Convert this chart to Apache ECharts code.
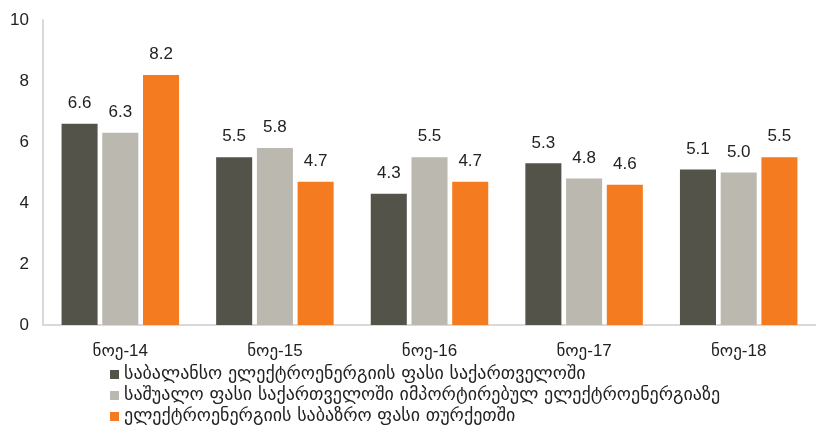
<!DOCTYPE html>
<html><head><meta charset="utf-8">
<script src="https://cdn.jsdelivr.net/npm/echarts@6/dist/echarts.min.js"></script>
<style>html,body{margin:0;padding:0;background:#fff}#c{width:816px;height:427px}</style>
</head><body><div id="c"></div>
<script>
const categories = ['ნოე-14','ნოე-15','ნოე-16','ნოე-17','ნოე-18'];
const seriesNames = ['საბალანსო ელექტროენერგიის ფასი საქართველოში','საშუალო ფასი საქართველოში იმპორტირებულ ელექტროენერგიაზე','ელექტროენერგიის საბაზრო ფასი თურქეთში'];
const balancing = [6.6, 5.5, 4.3, 5.3, 5.1];
const imported = [6.3, 5.8, 5.5, 4.8, 5.0];
const turkey = [8.2, 4.7, 4.7, 4.6, 5.5];
const colors = ['#53534a','#bbb8b0','#f47b20'];
const font = 'Liberation Sans, Arial, DejaVu Sans, sans-serif';
const chart = echarts.init(document.getElementById('c'));
const mk = (name, data, color) => ({
  name, type:'bar', data, barGap:'13%', barCategoryGap:'24%',
  itemStyle:{color},
  label:{show:true, position:'top', distance:12, color:'#222', fontSize:17, fontFamily:font, formatter:p=>p.value.toFixed(1)}
});
chart.setOption({
  animation:false,
  grid:{left:43, width:780, top:20, bottom:102},
  legend:{orient:'vertical', left:105, top:359, height:70, width:700, itemWidth:9, itemHeight:9, itemGap:0, icon:'rect',
    textStyle:{fontSize:18, lineHeight:21, color:'#222', fontFamily:'DejaVu Sans, sans-serif'}, data:seriesNames},
  xAxis:{type:'category', data:categories, axisTick:{show:false},
    axisLine:{lineStyle:{color:'#d9d9d9', width:2}},
    axisLabel:{fontSize:17, color:'#222', fontFamily:font, margin:18}},
  yAxis:{type:'value', min:0, max:10, interval:2, splitLine:{show:false},
    axisLine:{show:true, lineStyle:{color:'#d9d9d9', width:2}},
    axisLabel:{fontSize:17, color:'#222', fontFamily:font, margin:14}},
  series:[mk(seriesNames[0], balancing, colors[0]), mk(seriesNames[1], imported, colors[1]), mk(seriesNames[2], turkey, colors[2])]
});
</script></body></html>
